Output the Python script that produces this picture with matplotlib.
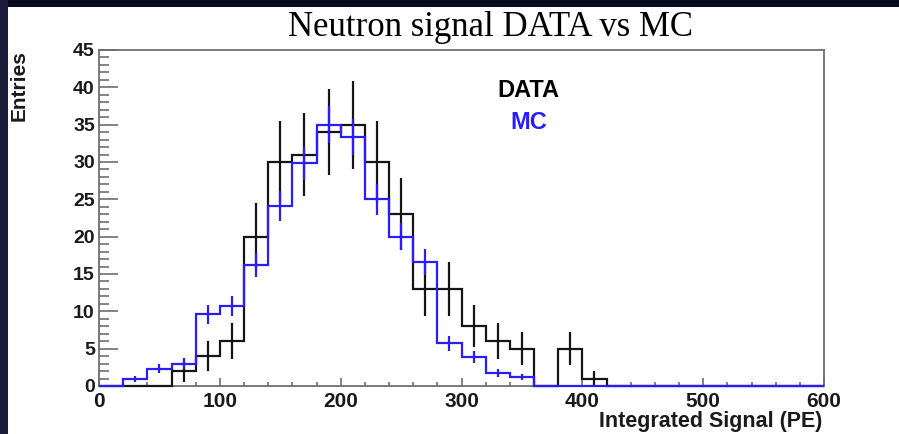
import matplotlib.pyplot as plt
import numpy as np
from matplotlib.patches import Rectangle
from matplotlib.ticker import MultipleLocator

# 20 PE bins from 0 to 600
bin_edges = np.arange(0, 620, 20)

data_counts = [0, 0, 0, 2, 4, 6, 20, 30, 31, 34, 35, 30, 23, 13, 13,
               8, 6, 5, 0, 5, 1, 0, 0, 0, 0, 0, 0, 0, 0, 0]
data_errors = [0, 0, 0, 1.4, 2.0, 2.45, 4.5, 5.5, 5.6, 5.8, 5.9, 5.5, 4.8, 3.6, 3.6,
               2.8, 2.45, 2.2, 0, 2.2, 1.0, 0, 0, 0, 0, 0, 0, 0, 0, 0]

mc_counts = [0, 0.9, 2.3, 3.0, 9.6, 10.7, 16.2, 24.1, 29.8, 35.0, 33.3, 25.0, 20.0, 16.6, 5.7,
             3.9, 1.7, 1.2, 0, 0, 0, 0, 0, 0, 0, 0, 0, 0, 0, 0]
mc_errors = [0, 0.4, 0.6, 0.7, 1.3, 1.35, 1.65, 2.0, 2.25, 2.45, 2.4, 2.05, 1.85, 1.7, 1.0,
             0.8, 0.55, 0.45, 0, 0, 0, 0, 0, 0, 0, 0, 0, 0, 0, 0]

title = "Neutron signal DATA vs MC"
xlabel = "Integrated Signal (PE)"
ylabel = "Entries"

black = "#151515"
blue = "#2a1cff"
frame = "#6e6e6e"

fig = plt.figure(figsize=(8.99, 4.34), dpi=100)
fig.patch.set_facecolor("white")

# dark slide border on top and left
fig.add_artist(Rectangle((0, 1 - 7 / 434), 1, 7 / 434, transform=fig.transFigure,
                         facecolor="#080a1e", edgecolor="none"))
fig.add_artist(Rectangle((0, 0), 8 / 899, 1, transform=fig.transFigure,
                         facecolor="#1b1c3c", edgecolor="none"))

ax = fig.add_axes([99 / 899, 1 - 386 / 434, 725 / 899, 336 / 434])

centers = 0.5 * (bin_edges[:-1] + bin_edges[1:])
data_counts = np.asarray(data_counts)
data_errors = np.asarray(data_errors)
mc_counts = np.asarray(mc_counts)
mc_errors = np.asarray(mc_errors)

# histograms sit on top of the frame so the zero bins show along the axis
ax.stairs(data_counts, bin_edges, color=black, linewidth=1.6, baseline=None,
          zorder=3, clip_on=False)
m = data_errors > 0
ax.errorbar(centers[m], data_counts[m], yerr=data_errors[m], fmt="none",
            ecolor=black, elinewidth=1.6, capsize=0, zorder=3)

ax.stairs(mc_counts, bin_edges, color=blue, linewidth=1.6, baseline=None,
          zorder=4, clip_on=False)
m = mc_errors > 0
ax.errorbar(centers[m], mc_counts[m], yerr=mc_errors[m], fmt="none",
            ecolor=blue, elinewidth=1.6, capsize=0, zorder=4)

ax.set_xlim(0, 600)
ax.set_ylim(0, 45)

for side in ["left", "bottom", "top", "right"]:
    ax.spines[side].set_color(frame)
    ax.spines[side].set_linewidth(1.3)

ax.xaxis.set_major_locator(MultipleLocator(100))
ax.xaxis.set_minor_locator(MultipleLocator(20))
ax.yaxis.set_major_locator(MultipleLocator(5))
ax.yaxis.set_minor_locator(MultipleLocator(1))

ax.tick_params(axis="y", which="major", direction="in", length=14, width=1.2,
               color=frame, labelsize=14, pad=3)
ax.tick_params(axis="y", which="minor", direction="in", length=7, width=1.2, color=frame)
ax.tick_params(axis="x", which="major", direction="in", length=6, width=1.2,
               color=frame, labelsize=15, pad=4)
ax.tick_params(axis="x", which="minor", direction="in", length=3, width=1.2, color=frame)
for lab in ax.get_xticklabels() + ax.get_yticklabels():
    lab.set_fontweight("bold")
    lab.set_family("Liberation Sans")
    lab.set_color("#1a1a1a")

fig.text(822 / 899, 1 - 422 / 434, xlabel, ha="right", va="center",
         fontsize=15.5, fontweight="bold", family="Liberation Sans", color="#1a1a1a")
fig.text(19 / 899, 1 - 50 / 434, ylabel, ha="center", va="top", rotation=90,
         fontsize=15, fontweight="bold", family="Liberation Sans", color="#1a1a1a")

fig.text(490 / 899, 1 - 28 / 434, title, ha="center", va="center",
         fontsize=25, family="Liberation Serif", color="black")

ax.text(0.592, 0.879, "DATA", transform=ax.transAxes, ha="center", va="center",
        fontsize=17, fontweight="bold", family="Liberation Sans", color="black")
ax.text(0.593, 0.783, "MC", transform=ax.transAxes, ha="center", va="center",
        fontsize=17, fontweight="bold", family="Liberation Sans", color=blue)

fig.savefig("out.png", dpi=100)
